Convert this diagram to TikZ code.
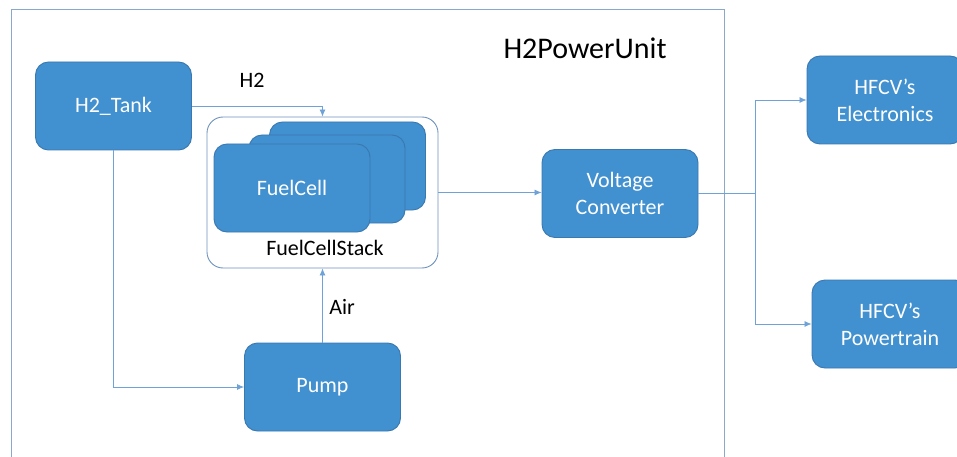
\documentclass[tikz,border=0pt]{standalone}
\usepackage{fontspec}
\setmainfont{Carlito}
\usetikzlibrary{arrows.meta}
\definecolor{boxblue}{HTML}{4190CF}
\definecolor{boxedge}{HTML}{3A78B0}
\definecolor{lineblue}{HTML}{6FA3D8}
\definecolor{framecol}{HTML}{8AA8CC}
\definecolor{stackcol}{HTML}{6F93BF}
\tikzset{
  blk/.style={rectangle, rounded corners=13pt, fill=boxblue, draw=boxedge, line width=0.9pt,
    text=white, font=\fontsize{22}{27}\selectfont, align=center,
    minimum width=156pt, minimum height=88pt, inner sep=0pt},
  conn/.style={draw=lineblue, line width=0.8pt},
  arr/.style={conn, -{Latex[length=7pt,width=6pt]}},
  lbl/.style={font=\fontsize{22}{26}\selectfont, text=black, inner sep=0pt}
}
\begin{document}
\begin{tikzpicture}[x=1pt,y=-1pt]
\useasboundingbox (0,0) rectangle (957,457);
\fill[white] (0,0) rectangle (957,457);
% outer frame
\draw[framecol, line width=1pt] (11,10) rectangle (724,470);
\node[font=\fontsize{30}{34}\selectfont, inner sep=0pt] (title) at (585,48) {H2PowerUnit};
% boxes
\node[blk] (tank) at (113.5,106) {H2\_Tank};
\node[rectangle, rounded corners=16pt, draw=stackcol, line width=0.9pt,
  minimum width=231pt, minimum height=151pt, inner sep=0pt] (stack) at (322.5,192.5) {};
\node[blk] (fc3) at (347.5,166) {};
\node[blk] (fc2) at (327,179) {};
\node[blk] (fc1) at (292,188) {FuelCell};
\node[lbl] (stacklbl) at (325,248) {FuelCellStack};
\node[blk] (vc) at (620,193.5) {Voltage\\Converter};
\node[blk] (pump) at (322.5,387) {Pump};
\node[blk] (elec) at (885,100) {HFCV’s\\Electronics};
\node[blk] (pt) at (890,324) {HFCV’s\\Powertrain};
% connectors
\draw[arr] (tank.east) -| (stack.north);
\node[lbl] (h2lbl) at (252,80) {H2};
\draw[arr] (tank.south) |- (pump.west);
\draw[arr] (pump.north) -- (stack.south);
\node[lbl] (airlbl) at (342,307) {Air};
\draw[arr] (stack.east) -- (stack.east -| vc.west);
\coordinate (br) at (755,193.5);
\draw[conn] (vc.east) -- (br);
\draw[arr] (br) |- (elec.west);
\draw[arr] (br) |- (pt.west);
\end{tikzpicture}
\end{document}
